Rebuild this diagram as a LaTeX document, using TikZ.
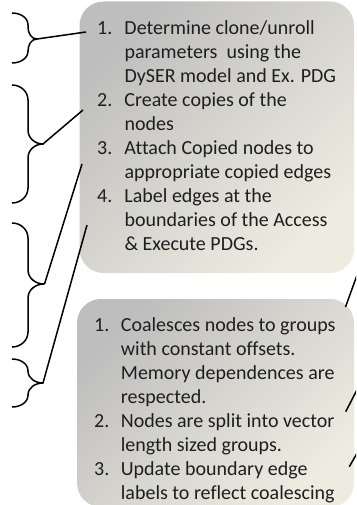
\documentclass[tikz,border=0pt]{standalone}
\usepackage{fontspec}
\setmainfont[Ligatures=NoCommon]{Carlito}
\definecolor{boxdark}{RGB}{190,190,190}
\definecolor{boxlight}{RGB}{238,236,225}
\definecolor{inktext}{RGB}{30,30,30}
\begin{document}
\begin{tikzpicture}[x=1pt,y=-1pt,
  panel/.style={rounded corners=24pt, top color=boxdark, bottom color=boxlight, shading angle=45},
  steps/.style={anchor=north west, inner sep=0pt, text=inktext, font=\fontsize{20}{24}\selectfont},
  bracestroke/.style={line width=1.5pt, line join=round},
  link/.style={line width=1.5pt}]
\useasboundingbox (0,0) rectangle (356,505);
\clip (0,0) rectangle (356,505);
% panels
\shade[panel] (79.5,1.5) rectangle (354,273);
\shade[panel] (77,299) rectangle (354,507);
% texts
\node[steps] (accsteps) at (97,17.2) {\begin{tabular}{@{}l@{}l@{}}
\makebox[27.3pt][l]{1.} & Determine clone/unroll\\
 & parameters\ \ using the\\
 & DySER model and Ex. PDG\\
2. & Create copies of the\\
 & nodes\\
3. & Attach Copied nodes to\\
 & appropriate copied edges\\
4. & Label edges at the\\
 & boundaries of the Access\\
 & \& Execute PDGs.
\end{tabular}};
\node[steps] (vecsteps) at (94,314.9) {\begin{tabular}{@{}l@{}l@{}}
\makebox[26.7pt][l]{1.} & Coalesces nodes to groups\\
 & with constant offsets.\\
 & Memory dependences are\\
 & respected.\\
2. & Nodes are split into vector\\
 & length sized groups.\\
3. & Update boundary edge\\
 & labels to reflect coalescing
\end{tabular}};
% braces
\draw[bracestroke] (12,13) to[out=0,in=90] (28,25) -- (28,27) to[out=-90,in=180] (37,39)
  to[out=180,in=90] (28,51) -- (28,51) to[out=-90,in=0] (12,63);
\draw[bracestroke] (12,85) to[out=0,in=90] (28,100) -- (28,130) to[out=-90,in=180] (43,144)
  to[out=180,in=90] (28,158) -- (28,188) to[out=-90,in=0] (12,203);
\draw[bracestroke] (12,223) to[out=0,in=90] (28,238) -- (28,270) to[out=-90,in=180] (44,284)
  to[out=180,in=90] (28,298) -- (28,332) to[out=-90,in=0] (12,347);
\draw[bracestroke] (12,359) to[out=0,in=90] (28,371) -- (28,371) to[out=-90,in=180] (43,383)
  to[out=180,in=90] (28,395) -- (28,395) to[out=-90,in=0] (12,407);
% brace tips and connector ends
\coordinate (tip1) at (37,39);
\coordinate (tip2) at (43,144);
\coordinate (tip3) at (44.5,284);
\coordinate (tip4) at (43,383);
\coordinate (end1) at (86,32);
\coordinate (end2) at (83,110);
\coordinate (end3) at (82,164);
\coordinate (end4) at (87,225);
\draw[link] (tip1) -- (end1);
\draw[link] (tip2) -- (end2);
\draw[link] (tip3) -- (end3);
\draw[link] (tip4) -- (end4);
% right side connectors leaving the picture
\coordinate (rs1) at (345.5,307);
\coordinate (rf1) at (366.5,249);
\coordinate (rs2) at (345.7,411.7);
\coordinate (rf2) at (366.3,371.7);
\coordinate (rs3) at (349.3,466.7);
\coordinate (rf3) at (362.7,443.3);
\draw[link] (rs1) -- (rf1);
\draw[link] (rs2) -- (rf2);
\draw[link] (rs3) -- (rf3);
\end{tikzpicture}
\end{document}
